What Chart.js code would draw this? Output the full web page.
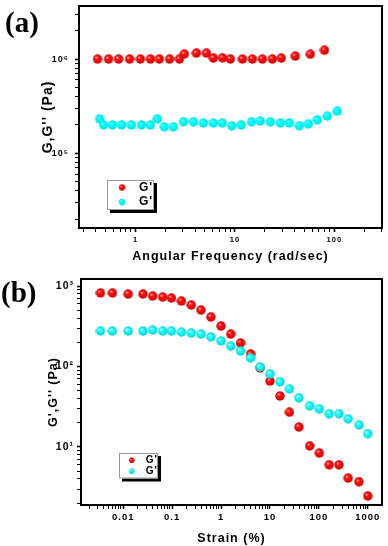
<!DOCTYPE html>
<html>
<head>
<meta charset="utf-8">
<script src="https://cdn.jsdelivr.net/npm/chart.js@4.4.0/dist/chart.umd.min.js"></script>
<style>
  body { margin: 0; background: #fff; width: 388px; height: 546px; position: relative; overflow: hidden; }
  .panel { position: absolute; left: 0; width: 388px; }
  .panel canvas { display: block; }
  .tag { position: absolute; font: bold 29px "Liberation Serif", "Times New Roman", serif; line-height: 29px; color: #000; }
</style>
</head>
<body>
<div class="panel" style="top:0;height:270px"><canvas id="chartA" width="388" height="270"></canvas></div>
<div class="panel" style="top:270px;height:276px"><canvas id="chartB" width="388" height="276"></canvas></div>
<div class="tag" style="left:5px;top:8px">(a)</div>
<div class="tag" style="left:1px;top:278px">(b)</div>
<script>
// (a) frequency sweep
const freqGp = [0.415, 0.535, 0.675, 0.87, 1.12, 1.415, 1.74, 2.2, 2.77, 3.1, 4.1, 5.17, 6.08, 7.5, 9.0, 11.9, 15.0, 18.9, 23.8, 29.3, 40.5, 57.4, 79.6];
const gpFreq = [1.0e6, 1.0e6, 1.0e6, 1.0e6, 1.0e6, 1.0e6, 1.0e6, 1.0e6, 1.0e6, 1.13e6, 1.155e6, 1.155e6, 1.024e6, 1.03e6, 1.0e6, 1.0e6, 1.0e6, 1.0e6, 1.0e6, 1.024e6, 1.075e6, 1.127e6, 1.24e6];
const freqGpp = [0.435, 0.477, 0.587, 0.723, 0.91, 1.15, 1.415, 1.66, 1.95, 2.41, 3.04, 3.83, 4.82, 6.08, 7.48, 9.3, 11.6, 14.7, 18.0, 22.7, 28.7, 35.3, 44.5, 54.8, 67.5, 85, 107];
const gppFreq = [2.32e5, 2.0e5, 2.0e5, 2.0e5, 2.0e5, 2.0e5, 2.0e5, 2.32e5, 1.91e5, 1.91e5, 2.16e5, 2.16e5, 2.1e5, 2.1e5, 2.1e5, 1.96e5, 2.0e5, 2.16e5, 2.2e5, 2.16e5, 2.1e5, 2.1e5, 1.96e5, 2.05e5, 2.26e5, 2.48e5, 2.8e5];
const freqTicks = [1, 10, 100];
const freqTickLabels = ['1', '10', '100'];
const modTicksA = [1e5, 1e6];
const modTickLabelsA = ['10⁵', '10⁶'];

// (b) strain sweep
const strain = [0.00343, 0.006, 0.0126, 0.0253, 0.04, 0.064, 0.097, 0.155, 0.246, 0.39, 0.62, 1.0, 1.58, 2.5, 4.0, 6.3, 10, 16, 25, 39, 65, 102, 162, 257, 397, 660, 1000];
const gpStrain = [819, 819, 795, 795, 751, 730, 710, 651, 581, 503, 412, 319, 253, 196, 143, 96, 66, 43, 27, 17.7, 10.3, 8.4, 6.0, 6.0, 4.1, 3.7, 2.46];
const gppStrain = [276, 276, 276, 276, 284, 276, 276, 268, 261, 253, 233, 208, 180, 156, 128, 98.6, 80.9, 64.5, 52.6, 40.8, 32.4, 29.7, 25.9, 25.9, 22.4, 18.8, 14.6];
const strainTicks = [0.01, 0.1, 1, 10, 100, 1000];
const strainTickLabels = ['0.01', '0.1', '1', '10', '100', '1000'];
const modTicksB = [10, 100, 1000];
const modTickLabelsB = ['10¹', '10²', '10³'];

const family = "'Liberation Sans', Arial, sans-serif";

function sphere(d, light, body, edge) {
  const c = document.createElement('canvas');
  c.width = c.height = d;
  const g = c.getContext('2d');
  const r = d / 2;
  const grad = g.createRadialGradient(r * 0.7, r * 0.65, 0, r, r, r);
  grad.addColorStop(0, light);
  grad.addColorStop(0.35, body);
  grad.addColorStop(1, edge);
  g.fillStyle = grad;
  g.beginPath();
  g.arc(r, r, r - 0.3, 0, Math.PI * 2);
  g.fill();
  return c;
}

const redBall = sphere(10, '#ffc8c8', '#ff1010', '#d00000');
const cyanFlat = sphere(10, '#90ffff', '#00ffff', '#00e0e0');
const cyanBall = sphere(10, '#e8ffff', '#20ffff', '#00d0d0');

function pts(xs, ys) {
  return xs.map((x, i) => ({x: x, y: ys[i]}));
}

function labelFor(v, values, labels) {
  const i = values.findIndex(t => Math.abs(Math.log10(t) - Math.log10(v)) < 1e-6);
  return i < 0 ? '' : labels[i];
}

// 1..9 x 10^n ticks between min and max
function logTicks(scale) {
  const lo = Math.floor(Math.log10(scale.min)), hi = Math.ceil(Math.log10(scale.max));
  const ticks = [];
  for (let e = lo; e <= hi; e++) {
    for (let k = 1; k < 10; k++) {
      const v = k * Math.pow(10, e);
      if (v >= scale.min && v <= scale.max) ticks.push({value: v, major: k === 1});
    }
  }
  scale.ticks = ticks;
}

const frame = {
  id: 'frame',
  beforeDraw(chart) { chart.ctx.letterSpacing = '1px'; },
  afterDraw(chart) {
    const {ctx, chartArea: a} = chart;
    ctx.save();
    ctx.strokeStyle = '#000';
    ctx.lineWidth = 2;
    ctx.strokeRect(a.left, a.top, a.right - a.left, a.bottom - a.top);
    ctx.restore();
    ctx.letterSpacing = '0px';
  }
};

const boxLegend = {
  id: 'boxLegend',
  afterDatasetsDraw(chart, args, o) {
    const ctx = chart.ctx, a = chart.chartArea;
    const x = a.left + o.dx, y = a.top + o.dy;
    ctx.save();
    ctx.fillStyle = '#000';
    ctx.fillRect(x + o.shadow, y + o.shadow, o.w, o.h);
    ctx.fillStyle = '#fff';
    ctx.fillRect(x, y, o.w, o.h);
    ctx.strokeStyle = '#999';
    ctx.lineWidth = 1;
    ctx.strokeRect(x + 0.5, y + 0.5, o.w - 1, o.h - 1);
    ctx.font = 'bold ' + o.size + 'px ' + family;
    ctx.fillStyle = '#000';
    ctx.textBaseline = 'middle';
    chart.data.datasets.forEach((ds, i) => {
      const cy = y + o.rowY[i];
      ctx.drawImage(ds.pointStyle, x + o.dotX - o.dot / 2, cy - o.dot / 2, o.dot, o.dot);
      ctx.fillText(ds.label, x + o.textX, cy);
    });
    ctx.restore();
  }
};

function axisGrid() {
  return {
    drawOnChartArea: false,
    drawTicks: true,
    tickLength: 4,
    tickColor: '#000',
    tickWidth: c => (c.tick && c.tick.major ? 1.6 : 1)
  };
}

function makeChart(id, cfg) {
  return new Chart(document.getElementById(id), {
    type: 'scatter',
    data: {
      datasets: [
        {label: "G'", data: cfg.gp, pointStyle: redBall, pointRadius: 5, order: 1},
        {label: "G''", data: cfg.gpp, pointStyle: cfg.cyan, pointRadius: 5, order: 0}
      ]
    },
    options: {
      responsive: false,
      animation: false,
      events: [],
      layout: {padding: cfg.padding},
      plugins: {
        legend: {display: false},
        tooltip: {enabled: false},
        boxLegend: cfg.legend
      },
      scales: {
        x: {
          type: 'logarithmic',
          min: cfg.xMin, max: cfg.xMax,
          border: {display: false},
          grid: axisGrid(),
          afterBuildTicks: logTicks,
          afterFit: s => { s.height = cfg.xHeight; s.paddingLeft = 0; s.paddingRight = 0; },
          ticks: {
            autoSkip: false, maxRotation: 0, padding: cfg.xPad, color: '#000',
            font: {family: family, size: cfg.xFont, weight: 'bold'},
            callback: v => labelFor(v, cfg.xTicks, cfg.xLabels)
          },
          title: {
            display: true, text: cfg.xTitle, color: '#000',
            font: {family: family, size: cfg.xTitleSize, weight: 'bold'},
            padding: {top: 0, bottom: cfg.xTitlePad}
          }
        },
        y: {
          type: 'logarithmic',
          min: cfg.yMin, max: cfg.yMax,
          border: {display: false},
          grid: axisGrid(),
          afterBuildTicks: logTicks,
          afterFit: s => { s.width = cfg.yWidth; s.paddingTop = 0; s.paddingBottom = 0; },
          ticks: {
            autoSkip: false, padding: cfg.yPad, color: '#000',
            font: {family: family, size: cfg.yFont, weight: 'bold'},
            callback: v => labelFor(v, cfg.yTicks, cfg.yLabels)
          },
          title: {
            display: true, text: cfg.yTitle, color: '#000',
            font: {family: family, size: cfg.yTitleSize, weight: 'bold'},
            padding: {top: cfg.yTitlePad, bottom: 0}
          }
        }
      }
    },
    plugins: [frame, boxLegend]
  });
}

makeChart('chartA', {
  gp: pts(freqGp, gpFreq), gpp: pts(freqGpp, gppFreq), cyan: cyanFlat,
  padding: {left: 0, top: 2, right: 6, bottom: 0},
  xMin: 0.27, xMax: 302, yMin: 1.615e4, yMax: 3.65e6,
  xHeight: 42, yWidth: 79,
  xTicks: freqTicks, xLabels: freqTickLabels, xFont: 7.5, xPad: 3,
  yTicks: modTicksA, yLabels: modTickLabelsA, yFont: 9, yPad: 6,
  xTitle: 'Angular Frequency (rad/sec)', xTitleSize: 12.5, xTitlePad: 6,
  yTitle: "G,G'' (Pa)", yTitleSize: 14, yTitlePad: 39.6,
  legend: {dx: 28, dy: 174, w: 47, h: 30, shadow: 3, size: 12, rowY: [7.5, 22], dotX: 15, dot: 7, textX: 32}
});

makeChart('chartB', {
  gp: pts(strain, gpStrain), gpp: pts(strain, gppStrain), cyan: cyanBall,
  padding: {left: 0, top: 9, right: 2.3, bottom: 0},
  xMin: 0.00137, xMax: 1950, yMin: 1.9, yMax: 1222,
  xHeight: 41, yWidth: 81,
  xTicks: strainTicks, xLabels: strainTickLabels, xFont: 9.5, xPad: 3,
  yTicks: modTicksB, yLabels: modTickLabelsB, yFont: 10.5, yPad: 3,
  xTitle: 'Strain (%)', xTitleSize: 12.5, xTitlePad: 0,
  yTitle: "G',G'' (Pa)", yTitleSize: 12.5, yTitlePad: 46.5,
  legend: {dx: 38, dy: 174, w: 39, h: 25.5, shadow: 3, size: 10, rowY: [7.3, 18.3], dotX: 12.7, dot: 6, textX: 26.7}
});
</script>
</body>
</html>
